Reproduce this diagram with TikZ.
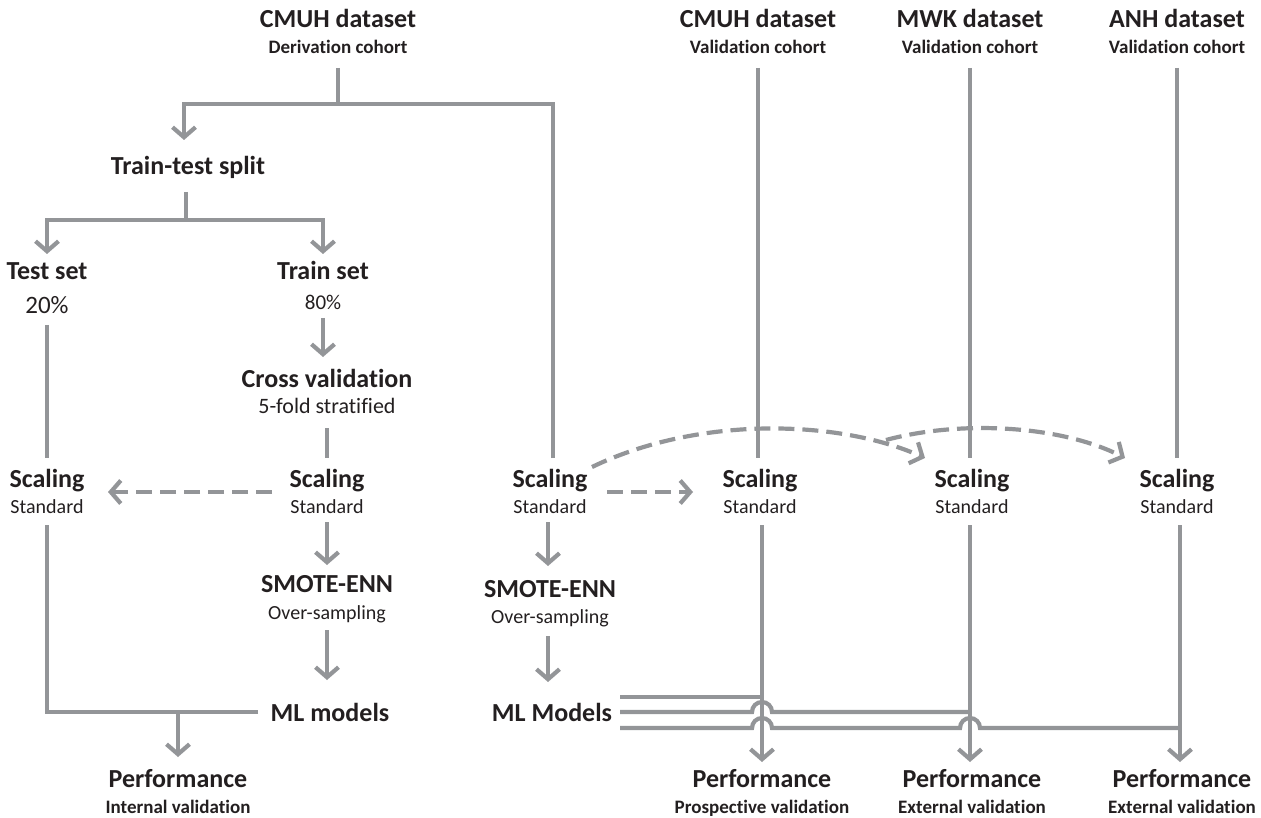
\documentclass[tikz,border=0pt]{standalone}
\usepackage{fontspec}
\setmainfont{Carlito}[Ligatures={NoCommon}]
\usetikzlibrary{arrows.meta}
\definecolor{ln}{HTML}{939598}
\definecolor{txt}{HTML}{231F20}
\tikzset{
  tb/.style={font=\fontsize{26}{28}\selectfont\bfseries, anchor=base, inner sep=0pt, text=txt},
  sb/.style={font=\fontsize{19}{21}\selectfont\bfseries, anchor=base, inner sep=0pt, text=txt},
  sr/.style={font=\fontsize{20}{22}\selectfont, anchor=base, inner sep=0pt, text=txt},
  conn/.style={draw=ln, line width=4.2pt},
  arr/.style={conn, -{Straight Barb[length=10pt,width=23pt]}},
  darr/.style={conn, dash pattern=on 16pt off 8pt, -{Straight Barb[length=10pt,width=23pt]}},
}
\begin{document}
\begin{tikzpicture}[x=1pt,y=-1pt]
\path[use as bounding box] (0,0) rectangle (1261,818);
% ---- text nodes
\node[tb] (t1) at (338,28) {CMUH dataset};
\node[sb] (t1s) at (338,54) {Derivation cohort};
\node[tb] (tts) at (188,175) {Train-test split};
\node[tb] (test) at (47,280) {Test set};
\node[sr, font=\fontsize{25}{27}\selectfont] (test20) at (47,313) {20\%};
\node[tb] (train) at (323,280) {Train set};
\node[sr, font=\fontsize{21}{23}\selectfont] (train80) at (323,309) {80\%};
\node[tb] (cv) at (327,387) {Cross validation};
\node[sr, font=\fontsize{22}{24}\selectfont] (cvs) at (327,413) {5-fold stratified};
\node[tb] (sc1) at (47,487) {Scaling};
\node[sr] (sc1s) at (47,513) {Standard};
\node[tb] (sc2) at (327,487) {Scaling};
\node[sr] (sc2s) at (327,513) {Standard};
\node[tb] (smo1) at (327,592) {SMOTE-ENN};
\node[sr] (smo1s) at (327,619) {Over-sampling};
\node[tb] (ml1) at (330,721) {ML models};
\node[tb] (perf1) at (178,787) {Performance};
\node[sb] (perf1s) at (178,813) {Internal validation};
\node[tb] (sc3) at (550,487) {Scaling};
\node[sr] (sc3s) at (550,513) {Standard};
\node[tb] (smo2) at (550,597) {SMOTE-ENN};
\node[sr] (smo2s) at (550,623) {Over-sampling};
\node[tb] (ml2) at (552,721) {ML Models};
\node[tb] (t2) at (758,28) {CMUH dataset};
\node[sb] (t2s) at (758,54) {Validation cohort};
\node[tb] (t3) at (970,28) {MWK dataset};
\node[sb] (t3s) at (970,54) {Validation cohort};
\node[tb] (t4) at (1177,28) {ANH dataset};
\node[sb] (t4s) at (1177,54) {Validation cohort};
\node[tb] (sc4) at (760,487) {Scaling};
\node[sr] (sc4s) at (760,513) {Standard};
\node[tb] (sc5) at (972,487) {Scaling};
\node[sr] (sc5s) at (972,513) {Standard};
\node[tb] (sc6) at (1177,487) {Scaling};
\node[sr] (sc6s) at (1177,513) {Standard};
\node[tb] (perf2) at (762,787) {Performance};
\node[sb] (perf2s) at (762,813) {Prospective validation};
\node[tb] (perf3) at (972,787) {Performance};
\node[sb] (perf3s) at (972,813) {External validation};
\node[tb] (perf4) at (1182,787) {Performance};
\node[sb] (perf4s) at (1182,813) {External validation};
% ---- connector end points
\coordinate (a1) at (338,68);   \coordinate (j1) at (338,104);
\coordinate (m1) at (553,458);
\coordinate (a2) at (184,140);
\coordinate (b1) at (186,192);  \coordinate (j2) at (186,220);
\coordinate (b2) at (47,254);   \coordinate (b3) at (323,254);
\coordinate (c1) at (323,318);  \coordinate (c2) at (323,357);
\coordinate (d1) at (327,428);  \coordinate (d2) at (327,458);
\coordinate (e1) at (272,492);  \coordinate (e2) at (108,492);
\coordinate (f1) at (47,325);   \coordinate (f2) at (47,458);
\coordinate (g1) at (327,522);  \coordinate (g2) at (327,565);
\coordinate (h1) at (327,630);  \coordinate (h2) at (327,680);
\coordinate (k1) at (258,712);  \coordinate (k2) at (47,525);
\coordinate (j3) at (178,712);  \coordinate (k3) at (178,757);
\coordinate (n1) at (548,522);  \coordinate (n2) at (548,566);
\coordinate (n3) at (548,636);  \coordinate (n4) at (548,682);
\coordinate (p1) at (607,492);  \coordinate (p2) at (693,492);
\coordinate (q1) at (592,467);  \coordinate (q2) at (925,458);
\coordinate (q3) at (886,440);  \coordinate (q4) at (1125,458);
% ---- connectors
\draw[conn] (a1) -- (j1);
\draw[arr] (m1) -- (553,104) -- (184,104) -- (a2);
\draw[conn] (b1) -- (j2);
\draw[conn, {Straight Barb[length=10pt,width=23pt]}-{Straight Barb[length=10pt,width=23pt]}]
  (b2) -- (47,220) -- (323,220) -- (b3);
\draw[arr] (c1) -- (c2);
\draw[conn] (d1) -- (d2);
\draw[darr] (e1) -- (e2);
\draw[conn] (f1) -- (f2);
\draw[arr] (g1) -- (g2);
\draw[arr] (h1) -- (h2);
\draw[conn] (k1) -- (47,712) -- (k2);
\draw[arr] (j3) -- (k3);
\draw[arr] (n1) -- (n2);
\draw[arr] (n3) -- (n4);
\draw[darr] (p1) -- (p2);
\draw[darr] (q1) .. controls (700,415) and (840,420) .. (q2);
\draw[darr] (q3) .. controls (960,420) and (1060,425) .. (q4);
% verticals top
\draw[conn] (758,68) -- (758,458);
\draw[conn] (970,68) -- (970,458);
\draw[conn] (1177,68) -- (1177,458);
% verticals bottom
\draw[arr] (762,525) -- (762,762);
\draw[arr] (970,525) -- (970,762);
\draw[arr] (1180,525) -- (1180,762);
% ML model outputs
\draw[conn] (620,697) -- (762,697);
\draw[conn] (620,712) -- (752,712) arc[start angle=180, end angle=0, radius=10pt] -- (970,712);
\draw[conn] (620,728) -- (752,728) arc[start angle=180, end angle=0, radius=10pt] -- (960,728) arc[start angle=180, end angle=0, radius=10pt] -- (1180,728);
\end{tikzpicture}
\end{document}
